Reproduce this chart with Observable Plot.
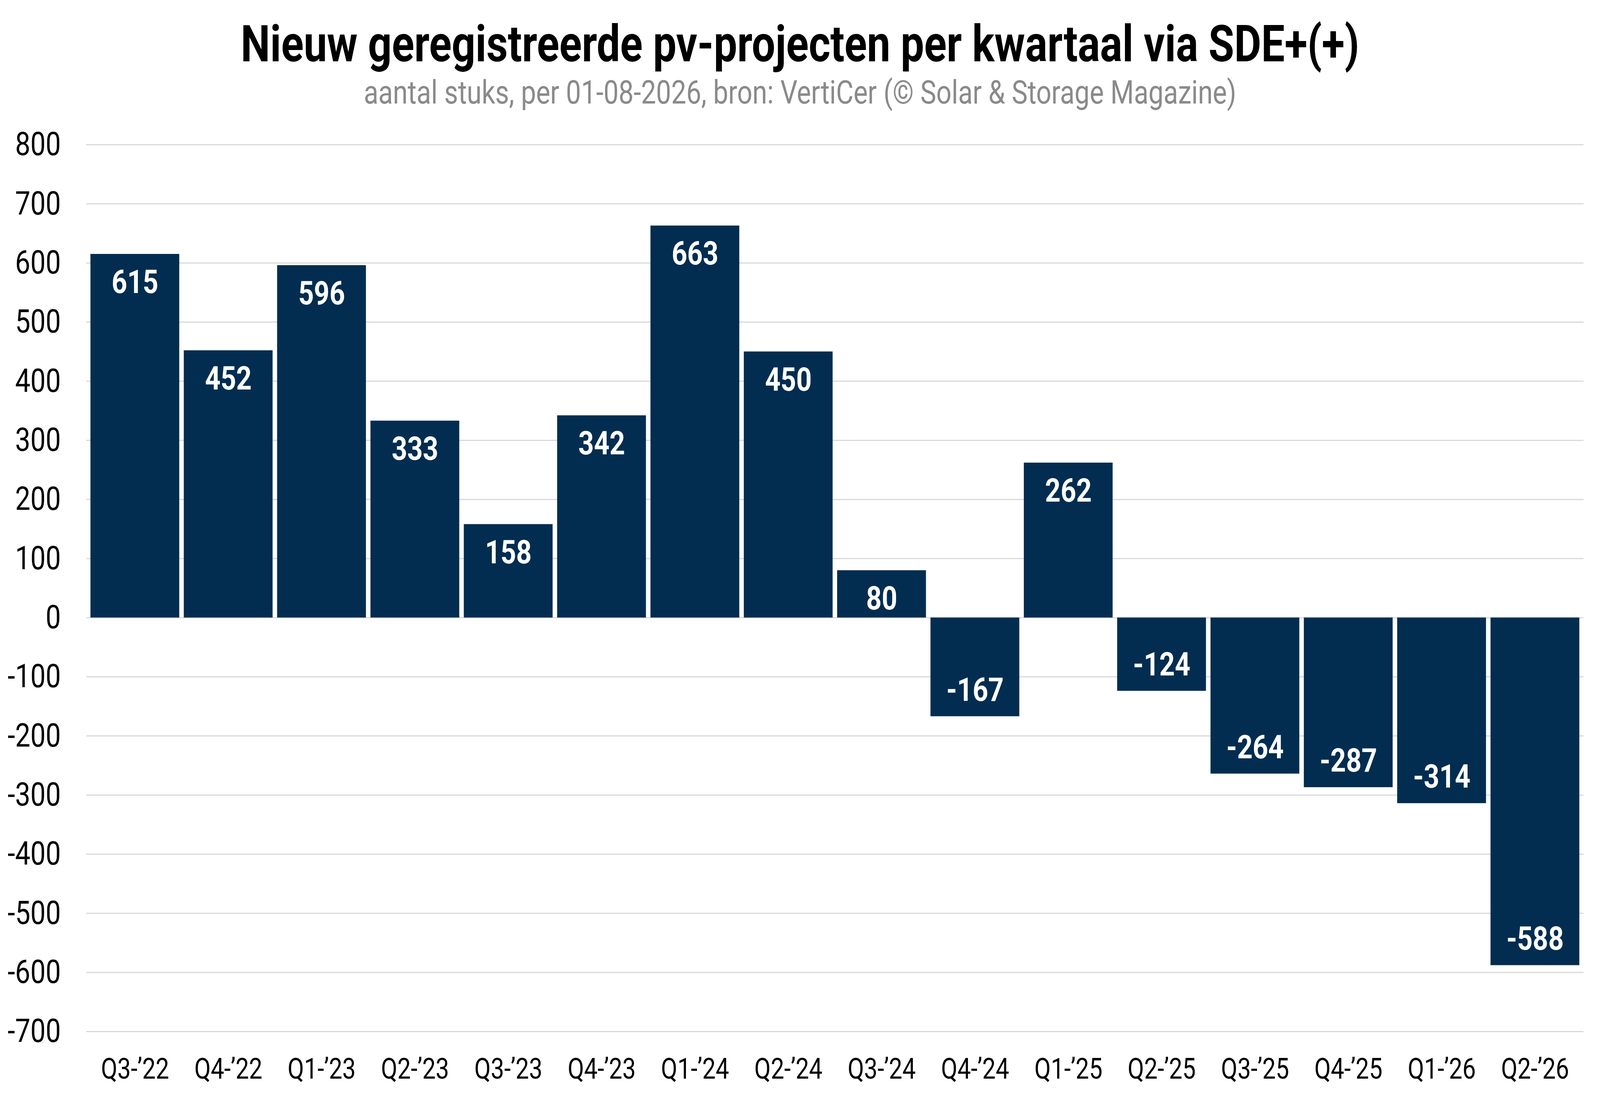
<!DOCTYPE html>
<html>
<head>
<meta charset="utf-8">
<script src="https://cdn.jsdelivr.net/npm/d3@7"></script>
<script src="https://cdn.jsdelivr.net/npm/@observablehq/plot@0.6"></script>
<style>
  html, body { margin: 0; padding: 0; background: #ffffff; overflow: hidden; }
  #wrap { position: absolute; left: 0; top: 0; width: 4954px; height: 2808px; overflow: hidden; background: #fff; font-family: Roboto, "Noto Sans", sans-serif; transform-origin: 0 0; }
  #header { position: relative; width: 4954px; height: 300px; }
  #title { position: absolute; left: 0; width: 4954px; top: 48px; text-align: center; font-size: 129px; line-height: 1; font-weight: 700; color: #000; white-space: nowrap; }
  #subtitle { position: absolute; left: 0; width: 4954px; top: 195px; text-align: center; font-size: 83px; line-height: 1; font-weight: 400; color: #8a8a8a; white-space: nowrap; }
  #chart { width: 4954px; }
  #chart svg { display: block; max-width: none; }
</style>
</head>
<body>
<div id="wrap">
  <div id="header">
    <div id="title"></div>
    <div id="subtitle"></div>
  </div>
  <div id="chart"></div>
</div>
<script>
const titleText = "Nieuw geregistreerde pv-projecten per kwartaal via SDE+(+)";
const subtitleText = "aantal stuks, per 01-08-2026, bron: VertiCer (© Solar & Storage Magazine)";

const quarters = ["Q3-’22", "Q4-’22", "Q1-’23", "Q2-’23", "Q3-’23", "Q4-’23", "Q1-’24", "Q2-’24",
                  "Q3-’24", "Q4-’24", "Q1-’25", "Q2-’25", "Q3-’25", "Q4-’25", "Q1-’26", "Q2-’26"];
const values = [615, 452, 596, 333, 158, 342, 663, 450, 80, -167, 262, -124, -264, -287, -314, -588];
const yTicks = [800, 700, 600, 500, 400, 300, 200, 100, 0, -100, -200, -300, -400, -500, -600, -700];

// The chart is laid out at the reference size (4954 x 2808) and fitted to the actual viewport.
const vw = document.documentElement.clientWidth || window.innerWidth || 4954;
const vh = document.documentElement.clientHeight || window.innerHeight || 2808;
const sx = vw / 4954, sy = vh / 2808;
document.getElementById("wrap").style.transform = `scale(${sx}, ${sy})`;

document.getElementById("title").textContent = titleText;
document.getElementById("subtitle").textContent = subtitleText;

const data = quarters.map((q, i) => ({quarter: q, value: values[i]}));
const barColor = "#022d50";

const chart = Plot.plot({
  width: 4954,
  height: 2508,
  marginTop: 70,
  marginBottom: 168,
  marginLeft: 267,
  marginRight: 51,
  style: {fontFamily: "Roboto, 'Noto Sans', sans-serif", background: "#ffffff", color: "#000000", maxWidth: "none"},
  x: {type: "band", domain: quarters, paddingInner: 0.05, paddingOuter: 0.03, label: null},
  y: {domain: [-700, 800], label: null},
  marks: [
    Plot.ruleY(yTicks, {stroke: "#d9d9d9", strokeWidth: 3}),
    Plot.barY(data, {x: "quarter", y: "value", fill: barColor}),
    Plot.text(data.filter(d => d.value >= 0), {
      x: "quarter", y: "value", text: d => String(d.value),
      lineAnchor: "top", dy: 40, fill: "#ffffff", fontSize: 84, fontWeight: 700
    }),
    Plot.text(data.filter(d => d.value < 0), {
      x: "quarter", y: "value", text: d => String(d.value),
      lineAnchor: "bottom", dy: -40, fill: "#ffffff", fontSize: 84, fontWeight: 700
    }),
    Plot.axisY({ticks: yTicks, tickSize: 0, tickPadding: 79, fontSize: 84, tickFormat: d => String(d), label: null}),
    Plot.axisX({tickSize: 0, tickPadding: 68, fontSize: 74, label: null})
  ]
});
document.getElementById("chart").appendChild(chart);
</script>
</body>
</html>
